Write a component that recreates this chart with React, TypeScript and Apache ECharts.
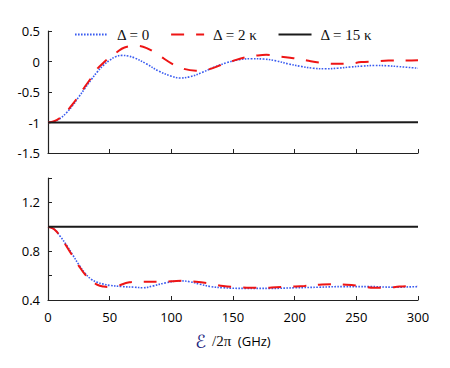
import React, { useEffect, useRef } from "react";
import * as echarts from "echarts";

// Top panel (Δ = 0, 2κ, 15κ)
const topBlueX = [0, 5, 10, 15, 20, 25, 30, 35, 40, 45, 50, 55, 60, 65, 70, 80, 90, 100, 107, 115, 125, 135, 145, 155, 165, 175, 185, 195, 205, 215, 225, 235, 245, 255, 265, 275, 285, 300];
const topBlueY = [-1, -0.98, -0.93, -0.84, -0.72, -0.58, -0.44, -0.3, -0.17, -0.06, 0.02, 0.08, 0.1, 0.09, 0.06, -0.04, -0.16, -0.24, -0.27, -0.25, -0.18, -0.09, -0.02, 0.03, 0.045, 0.04, 0.01, -0.04, -0.08, -0.11, -0.12, -0.11, -0.09, -0.075, -0.065, -0.07, -0.085, -0.11];

const topRedX = [0, 5, 10, 15, 20, 25, 30, 35, 40, 45, 50, 55, 62, 72, 80, 90, 100, 110, 120, 130, 140, 150, 160, 170, 177, 188, 199, 210, 220, 233, 243, 254, 265, 276, 288, 300];
const topRedY = [-1, -0.98, -0.92, -0.82, -0.7, -0.56, -0.41, -0.27, -0.12, -0.02, 0.07, 0.14, 0.23, 0.255, 0.22, 0.1, -0.03, -0.12, -0.15, -0.13, -0.06, 0.01, 0.07, 0.1, 0.11, 0.08, 0.055, 0.016, -0.016, -0.037, -0.037, -0.01, 0.0, 0.016, 0.016, 0.02];

const topBlackX = [0, 150, 300];
const topBlackY = [-1, -1, -0.995];

// Bottom panel
const botBlueX = [0, 5, 10, 15, 20, 25, 30, 35, 40, 45, 50, 60, 70, 77, 85, 95, 107, 115, 123, 132, 142, 160, 180, 200, 220, 240, 260, 280, 300];
const botBlueY = [1.0, 0.98, 0.92, 0.85, 0.77, 0.69, 0.62, 0.57, 0.545, 0.53, 0.52, 0.51, 0.505, 0.5, 0.515, 0.54, 0.557, 0.55, 0.53, 0.51, 0.5, 0.495, 0.495, 0.5, 0.505, 0.51, 0.51, 0.505, 0.51];

const botRedX = [0, 5, 10, 15, 20, 25, 30, 35, 40, 45, 50, 55, 66, 76, 90, 100, 110, 120, 131, 142, 153, 164, 176, 185, 198, 208, 220, 230, 242, 253, 264, 275, 285, 300];
const botRedY = [1.0, 0.98, 0.92, 0.84, 0.76, 0.68, 0.61, 0.56, 0.525, 0.51, 0.505, 0.51, 0.545, 0.55, 0.55, 0.553, 0.557, 0.55, 0.535, 0.515, 0.505, 0.5, 0.5, 0.505, 0.51, 0.515, 0.525, 0.53, 0.525, 0.515, 0.5, 0.5, 0.51, 0.515];

const botBlackX = [0, 150, 300];
const botBlackY = [1.0, 1.0, 1.0];

const seriesNames = ["Δ = 0", "Δ = 2 κ", "Δ = 15 κ"];
const xTicks = { min: 0, max: 300, interval: 50 };
const topYTicks = { min: -1.5, max: 0.5, interval: 0.5 };
const botYTicks = { min: 0.4, max: 1.4, interval: 0.2 };

const pairs = (xs: number[], ys: number[]) => xs.map((x, i) => [x, ys[i]]);

const BLUE = "#3a5cf0";
const RED = "#ee1515";
const BLACK = "#1a1a1a";
const AXIS = "#222";
const SANS = "'Open Sans', 'Liberation Sans', sans-serif";
const SERIF = "'Liberation Serif', 'DejaVu Serif', serif";

export default function App() {
  const ref = useRef<HTMLDivElement>(null);
  useEffect(() => {
    if (!ref.current) return;
    const chart = echarts.init(ref.current, undefined, { renderer: "svg" });
    const axisCommon = {
      axisLine: { show: true, onZero: false, lineStyle: { color: AXIS, width: 1.2 } },
      axisTick: { show: true, inside: true, length: 4, lineStyle: { color: AXIS, width: 1 } },
      splitLine: { show: false },
    };
    const mkSeries = (name: string, data: number[][], grid: number, style: any, z: number) => ({
      name,
      type: "line",
      xAxisIndex: grid,
      yAxisIndex: grid,
      data,
      showSymbol: false,
      symbol: "none",
      smooth: 0.4,
      z,
      lineStyle: style,
      itemStyle: { color: style.color },
    });
    const blueStyle = { color: BLUE, width: 1.6, type: [1.6, 1.4] };
    const redStyle = { color: RED, width: 2, type: [13, 12] };
    const blackStyle = { color: BLACK, width: 2, type: "solid" };
    chart.setOption({
      animation: false,
      backgroundColor: "#fff",
      legend: {
        data: seriesNames,
        left: 69,
        top: 22,
        itemWidth: 33,
        itemHeight: 12,
        itemGap: 20,
        itemStyle: { opacity: 0 },
        textStyle: { fontFamily: SERIF, fontSize: 15, color: "#111", padding: [0, 0, 0, 4] },
      },
      grid: [
        { left: 48, top: 31, width: 370, height: 122 },
        { left: 48, top: 178, width: 370, height: 122 },
      ],
      xAxis: [
        {
          type: "value",
          gridIndex: 0,
          ...xTicks,
          ...axisCommon,
          axisLabel: { show: false },
        },
        {
          type: "value",
          gridIndex: 1,
          ...xTicks,
          ...axisCommon,
          axisLabel: { show: true, color: "#000", fontFamily: SANS, fontSize: 13, margin: 10 },
          name: "{e|ℰ}{s| /2π}  {g|(GHz)}",
          nameLocation: "middle",
          nameGap: 32,
          nameTextStyle: {
            rich: {
              e: { fontFamily: "'DejaVu Sans', 'Noto Sans', serif", fontSize: 18, color: "#1a237e", padding: [0, 2, 0, 0] },
              s: { fontFamily: SERIF, fontSize: 15, color: "#111" },
              g: { fontFamily: SANS, fontSize: 13, color: "#000" },
            },
          },
        },
      ],
      yAxis: [
        {
          type: "value",
          gridIndex: 0,
          ...topYTicks,
          ...axisCommon,
          axisLabel: { show: true, color: "#000", fontFamily: SANS, fontSize: 13, margin: 8 },
        },
        {
          type: "value",
          gridIndex: 1,
          ...botYTicks,
          ...axisCommon,
          axisLabel: {
            show: true,
            color: "#000",
            fontFamily: SANS,
            fontSize: 13,
            margin: 8,
            formatter: (v: number) => (Math.round(v * 10) % 4 === 0 ? v.toFixed(1) : ""),
          },
        },
      ],
      series: [
        mkSeries(seriesNames[0], pairs(topBlueX, topBlueY), 0, blueStyle, 2),
        mkSeries(seriesNames[1], pairs(topRedX, topRedY), 0, redStyle, 3),
        mkSeries(seriesNames[2], pairs(topBlackX, topBlackY), 0, blackStyle, 4),
        mkSeries(seriesNames[0], pairs(botBlueX, botBlueY), 1, blueStyle, 2),
        mkSeries(seriesNames[1], pairs(botRedX, botRedY), 1, redStyle, 3),
        mkSeries(seriesNames[2], pairs(botBlackX, botBlackY), 1, blackStyle, 4),
      ],
    });
    return () => chart.dispose();
  }, []);
  return (
    <div
      ref={ref}
      style={{ position: "fixed", left: 0, top: 0, width: 450, height: 368, background: "#fff" }}
    />
  );
}
